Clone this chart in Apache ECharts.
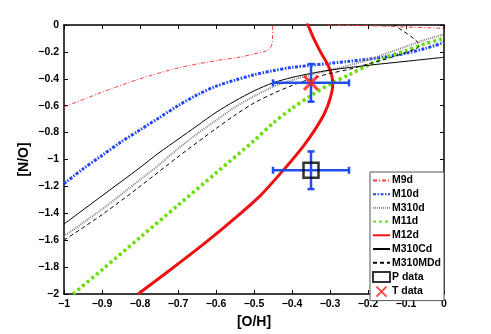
<!DOCTYPE html>
<html>
<head>
<meta charset="utf-8">
<script src="https://cdn.jsdelivr.net/npm/echarts@6/dist/echarts.min.js"></script>
<style>
  html, body { margin: 0; padding: 0; background: #fff; }
  #chart { width: 491px; height: 334px; }
</style>
</head>
<body>
<div id="chart"></div>
<script>
// model tracks, [O/H] vs [N/O]
var m9d = [[-1,-0.61],[-0.9,-0.50],[-0.8,-0.40],[-0.7,-0.32],[-0.6,-0.265],[-0.54,-0.24],[-0.5,-0.215],[-0.47,-0.195],[-0.457,-0.17],[-0.452,-0.13],[-0.451,0],[-0.45,0.06],[-0.33,0.06],[-0.31,0],[-0.2,-0.005],[-0.1,-0.015],[0,-0.025]];
var m10d = [[-1,-1.18],[-0.95,-1.07],[-0.9,-0.97],[-0.85,-0.87],[-0.8,-0.78],[-0.75,-0.69],[-0.7,-0.60],[-0.65,-0.52],[-0.6,-0.455],[-0.55,-0.41],[-0.5,-0.37],[-0.45,-0.34],[-0.4,-0.315],[-0.35,-0.30],[-0.3,-0.285],[-0.25,-0.27],[-0.2,-0.255],[-0.15,-0.235],[-0.1,-0.21],[-0.05,-0.175],[0,-0.13]];
var m310d = [[-1,-1.57],[-0.9,-1.37],[-0.8,-1.15],[-0.75,-1.04],[-0.7,-0.92],[-0.65,-0.81],[-0.6,-0.71],[-0.55,-0.61],[-0.5,-0.53],[-0.45,-0.46],[-0.4,-0.41],[-0.35,-0.37],[-0.3,-0.335],[-0.25,-0.30],[-0.2,-0.26],[-0.15,-0.21],[-0.1,-0.16],[-0.05,-0.11],[0,-0.07]];
var m11d = [[-0.976,-2],[-0.9,-1.82],[-0.8,-1.58],[-0.7,-1.34],[-0.6,-1.10],[-0.5,-0.86],[-0.45,-0.73],[-0.4,-0.62],[-0.35,-0.525],[-0.3,-0.44],[-0.25,-0.37],[-0.2,-0.30],[-0.15,-0.24],[-0.1,-0.19],[-0.05,-0.14],[0,-0.10]];
var m12d = [[-0.805,-2],[-0.72,-1.82],[-0.642,-1.65],[-0.56,-1.46],[-0.484,-1.27],[-0.42,-1.07],[-0.37,-0.90],[-0.34,-0.78],[-0.315,-0.66],[-0.30,-0.55],[-0.293,-0.45],[-0.295,-0.38],[-0.305,-0.30],[-0.325,-0.20],[-0.343,-0.10],[-0.352,-0.04],[-0.358,0],[-0.36,0.03]];
var m310Cd = [[-1,-1.48],[-0.9,-1.27],[-0.8,-1.06],[-0.75,-0.95],[-0.7,-0.85],[-0.65,-0.75],[-0.6,-0.65],[-0.55,-0.565],[-0.5,-0.49],[-0.45,-0.43],[-0.4,-0.39],[-0.35,-0.36],[-0.3,-0.335],[-0.2,-0.30],[-0.1,-0.27],[0,-0.24]];
var m310MDd = [[-1,-1.60],[-0.9,-1.41],[-0.8,-1.20],[-0.7,-0.98],[-0.6,-0.77],[-0.55,-0.67],[-0.5,-0.58],[-0.45,-0.51],[-0.4,-0.45],[-0.35,-0.40],[-0.3,-0.36],[-0.25,-0.33],[-0.2,-0.29],[-0.15,-0.25],[-0.1,-0.205],[-0.07,-0.17],[-0.065,-0.15],[-0.08,-0.10],[-0.11,-0.04],[-0.13,0],[-0.15,0.05]];

// observations: [x, y, xErr, yErr]
var pData = [[-0.35,-1.08,0.10,0.14]];
var tData = [[-0.35,-0.43,0.10,0.14]];

var xTicks = [-1,-0.9,-0.8,-0.7,-0.6,-0.5,-0.4,-0.3,-0.2,-0.1,0];
var yTicks = [-2,-1.8,-1.6,-1.4,-1.2,-1,-0.8,-0.6,-0.4,-0.2,0];

var FONT = 'Liberation Sans';
var fmt = function (v) {
    var s = String(+v.toFixed(1));
    return s.replace('-', '\u2212');
};

var myChart = echarts.init(document.getElementById('chart'));

function axisBase(show) {
    return {
        axisLine: { show: true, onZero: false, lineStyle: { color: '#000', width: 1.5 } },
        axisTick: { show: true, inside: true, length: 4, lineStyle: { color: '#000', width: 1 } },
        splitLine: { show: false },
        axisLabel: { show: show, color: '#000', fontFamily: FONT, fontWeight: 'bold', fontSize: 10.5, formatter: fmt }
    };
}

var xBottom = Object.assign(axisBase(true), {
    type: 'value', position: 'bottom', min: xTicks[0], max: xTicks[xTicks.length - 1], interval: 0.1,
    name: '[O/H]', nameLocation: 'middle', nameGap: 21,
    nameTextStyle: { color: '#000', fontFamily: FONT, fontWeight: 'bold', fontSize: 14 }
});
xBottom.axisLabel.margin = 5;
var xTop = Object.assign(axisBase(false), {
    type: 'value', position: 'top', min: xTicks[0], max: xTicks[xTicks.length - 1], interval: 0.1
});
var yLeft = Object.assign(axisBase(true), {
    type: 'value', position: 'left', min: yTicks[0], max: yTicks[yTicks.length - 1], interval: 0.2,
    name: '[N/O]', nameLocation: 'middle', nameGap: 33, nameMoveOverlap: false,
    nameTextStyle: { color: '#000', fontFamily: FONT, fontWeight: 'bold', fontSize: 14 }
});
yLeft.axisLabel.margin = 5;
var yRight = Object.assign(axisBase(false), {
    type: 'value', position: 'right', min: yTicks[0], max: yTicks[yTicks.length - 1], interval: 0.2
});

function lineSeries(name, data, color, width, type) {
    return {
        name: name, type: 'line', data: data, xAxisIndex: 0, yAxisIndex: 0,
        showSymbol: false, symbol: 'none', smooth: 0.3, clip: true, z: 2,
        lineStyle: { color: color, width: width, type: type },
        itemStyle: { color: color }
    };
}

var errColor = '#1f4fe8';
function errorBars(params, api) {
    var x = api.value(0), y = api.value(1), dx = api.value(2), dy = api.value(3);
    var l = api.coord([x - dx, y]), r = api.coord([x + dx, y]);
    var t = api.coord([x, y + dy]), b = api.coord([x, y - dy]);
    var c = 3.5;
    var st = { stroke: errColor, lineWidth: 2.5 };
    return {
        type: 'group',
        children: [
            { type: 'line', shape: { x1: l[0], y1: l[1], x2: r[0], y2: r[1] }, style: st },
            { type: 'line', shape: { x1: t[0], y1: t[1], x2: b[0], y2: b[1] }, style: st },
            { type: 'line', shape: { x1: l[0], y1: l[1] - c, x2: l[0], y2: l[1] + c }, style: st },
            { type: 'line', shape: { x1: r[0], y1: r[1] - c, x2: r[0], y2: r[1] + c }, style: st },
            { type: 'line', shape: { x1: t[0] - c, y1: t[1], x2: t[0] + c, y2: t[1] }, style: st },
            { type: 'line', shape: { x1: b[0] - c, y1: b[1], x2: b[0] + c, y2: b[1] }, style: st }
        ]
    };
}

var hideSym = { opacity: 0 };
var option = {
    animation: false,
    backgroundColor: '#fff',
    grid: { left: 64, right: 47, top: 25, bottom: 37 },
    xAxis: [xBottom, xTop],
    yAxis: [yLeft, yRight],
    legend: {
        orient: 'vertical',
        left: 370, top: 172,
        padding: [3, 3, 3, 2],
        itemWidth: 17, itemHeight: 10, itemGap: 2.7,
        backgroundColor: '#fff',
        borderColor: '#555', borderWidth: 1, borderRadius: 0,
        textStyle: { color: '#000', fontFamily: FONT, fontWeight: 'bold', fontSize: 10.5, lineHeight: 10, padding: [0, 0, 0, -3] },
        data: [
            { name: 'M9d', itemStyle: hideSym },
            { name: 'M10d', itemStyle: hideSym },
            { name: 'M310d', itemStyle: hideSym },
            { name: 'M11d', itemStyle: hideSym },
            { name: 'M12d', itemStyle: hideSym },
            { name: 'M310Cd', itemStyle: hideSym },
            { name: 'M310MDd', itemStyle: hideSym },
            'P data',
            'T data'
        ]
    },
    series: [
        lineSeries('M9d', m9d, '#ff3b3b', 1, [4, 2, 1, 2]),
        lineSeries('M10d', m10d, '#2448f0', 3, [3, 1.5, 1.5, 1.5]),
        lineSeries('M310d', m310d, '#8a8a8a', 2, [1, 1]),
        lineSeries('M11d', m11d, '#66e000', 3.5, [3, 3]),
        lineSeries('M12d', m12d, '#ee1111', 3, 'solid'),
        lineSeries('M310Cd', m310Cd, '#000', 1, 'solid'),
        lineSeries('M310MDd', m310MDd, '#000', 1, [4, 3]),
        {
            name: 'errbars', type: 'custom', renderItem: errorBars, z: 3,
            data: pData.concat(tData), silent: true
        },
        {
            name: 'P data', type: 'scatter', z: 4,
            data: pData.map(function (d) { return [d[0], d[1]]; }),
            symbol: 'rect', symbolSize: 15,
            itemStyle: { color: 'rgba(0,0,0,0)', borderColor: '#000', borderWidth: 2.5 }
        },
        {
            name: 'T data', type: 'scatter', z: 4,
            data: tData.map(function (d) { return [d[0], d[1]]; }),
            symbol: 'path://M0,0L10,10M10,0L0,10', symbolSize: 14,
            itemStyle: { color: 'rgba(0,0,0,0)', borderColor: '#ff1a1a', borderWidth: 3 }
        }
    ]
};
myChart.setOption(option);
</script>
</body>
</html>
